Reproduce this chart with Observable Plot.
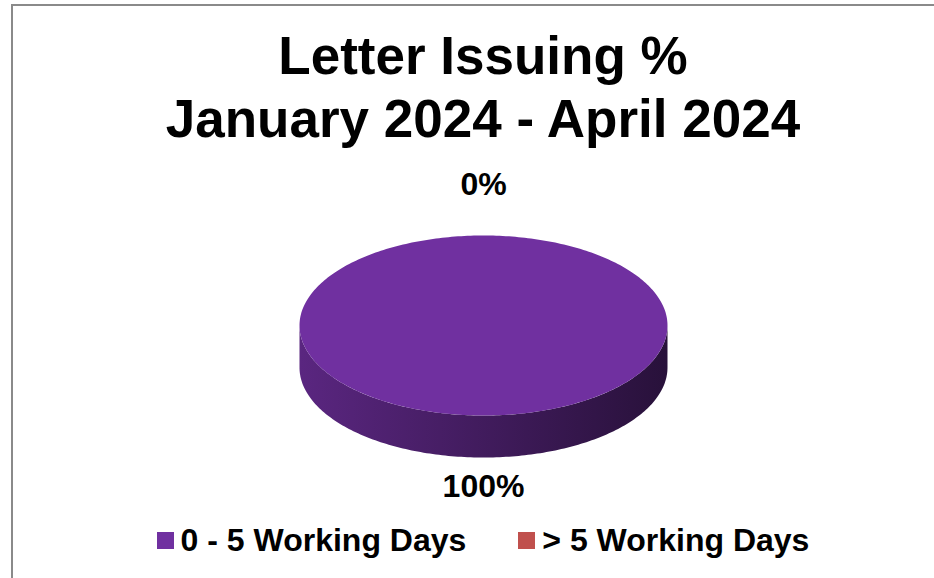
<!DOCTYPE html>
<html>
<head>
<meta charset="utf-8">
<script src="https://cdn.jsdelivr.net/npm/d3@7"></script>
<script src="https://cdn.jsdelivr.net/npm/@observablehq/plot@0.6"></script>
<style>
  html, body { margin: 0; padding: 0; background: #fff; }
  #frame { position: relative; width: 934px; height: 578px; overflow: hidden; background: #fff;
           font-family: "Liberation Sans", Arial, sans-serif; }
  #border { position: absolute; left: 11px; top: 4px; width: 1200px; height: 1200px;
            border-left: 2px solid #8a8a8a; border-top: 2px solid #8a8a8a; box-sizing: border-box; }
  #title { position: absolute; left: 0; top: 24px; width: 966px; text-align: center;
           font-size: 53px; font-weight: bold; line-height: 63px; color: #000; }
  #chart { position: absolute; left: 0; top: 150px; }
  #legend { position: absolute; left: 0; top: 520px; width: 966px; display: flex; justify-content: center;
            align-items: center; height: 40px; font-size: 32px; font-weight: bold; color: #000; }
  .item { display: flex; align-items: center; white-space: nowrap; }
  .item + .item { margin-left: 52px; }
  .sw { width: 17px; height: 17px; margin-right: 7px; }
</style>
</head>
<body>
<div id="frame">
  <div id="border"></div>
  <div id="title">Letter Issuing %<br>January 2024 - April 2024</div>
  <div id="chart"></div>
  <div id="legend"></div>
</div>
<script>
// ---- data ----
const categories = ["0 - 5 Working Days", "> 5 Working Days"];
const values = [100, 0];
const colors = ["#7030A0", "#C0504D"];
const pctLabels = ["100%", "0%"];

// ---- geometry helpers (unit ellipse, y up) ----
const depth = 0.467;           // side thickness in ellipse-y units
const pie = d3.pie().sort(null).startAngle(0).endAngle(2 * Math.PI)(values);

function arcPts(a0, a1, dy = 0) {
  const n = Math.max(2, Math.ceil(Math.abs(a1 - a0) / (Math.PI / 180)));
  return d3.range(n + 1).map(i => {
    const a = a0 + (a1 - a0) * i / n;
    return {x: Math.sin(a), y: Math.cos(a) - dy};
  });
}

// top faces
const topFaces = pie.map((s, i) => {
  if (s.endAngle - s.startAngle <= 0) return [];
  return [{x: 0, y: 0}, ...arcPts(s.startAngle, s.endAngle), {x: 0, y: 0}].map(p => ({...p, k: i}));
});

// front sides (visible part: angles between PI/2 and 3PI/2)
const sides = pie.map((s, i) => {
  const a0 = Math.max(s.startAngle, Math.PI / 2), a1 = Math.min(s.endAngle, 3 * Math.PI / 2);
  if (a1 <= a0) return [];
  return [...arcPts(a0, a1), ...arcPts(a1, a0, depth)].map(p => ({...p, k: i}));
});

// labels
const labelData = pie.map((s, i) => {
  const m = (s.startAngle + s.endAngle) / 2;
  const c = Math.cos(m), sn = Math.sin(m);
  const y = c >= 0 ? c * 1.567 : c * 1.322 - depth;
  return {x: sn * 1.3, y, text: pctLabels[i]};
});

const marks = [];
sides.forEach((pts, i) => {
  if (pts.length) marks.push(Plot.line(pts, {x: "x", y: "y", fill: `url(#side${i})`, stroke: "none"}));
});
topFaces.forEach((pts, i) => {
  if (pts.length) marks.push(Plot.line(pts, {x: "x", y: "y", fill: colors[i], stroke: "none"}));
});
marks.push(Plot.text(labelData, {
  x: "x", y: "y", text: "text", fontSize: 32, fontWeight: "bold", fill: "#000",
  fontFamily: "Liberation Sans, Arial, sans-serif"
}));

const svg = Plot.plot({
  width: 934,
  height: 360,
  margin: 0,
  x: {domain: [-1, 1], range: [299, 667], axis: null},
  y: {domain: [-1, 1], range: [265, 85], axis: null},
  style: {background: "transparent", overflow: "visible"},
  marks
});

// gradients for the sides
const defs = d3.select(svg).insert("defs", ":first-child");
colors.forEach((col, i) => {
  const c = d3.rgb(col);
  const g = defs.append("linearGradient").attr("id", `side${i}`)
    .attr("x1", 0).attr("x2", 1).attr("y1", 0).attr("y2", 0);
  const k0 = 0.8, k1 = 0.36;
  g.append("stop").attr("offset", "0%").attr("stop-color", d3.rgb(c.r * k0, c.g * k0, c.b * k0).formatHex());
  g.append("stop").attr("offset", "100%").attr("stop-color", d3.rgb(c.r * k1, c.g * k1, c.b * k1).formatHex());
});

document.getElementById("chart").appendChild(svg);

// legend
const legend = d3.select("#legend");
categories.forEach((cat, i) => {
  const it = legend.append("div").attr("class", "item");
  it.append("div").attr("class", "sw").style("background", colors[i]);
  it.append("span").text(cat);
});
</script>
</body>
</html>
